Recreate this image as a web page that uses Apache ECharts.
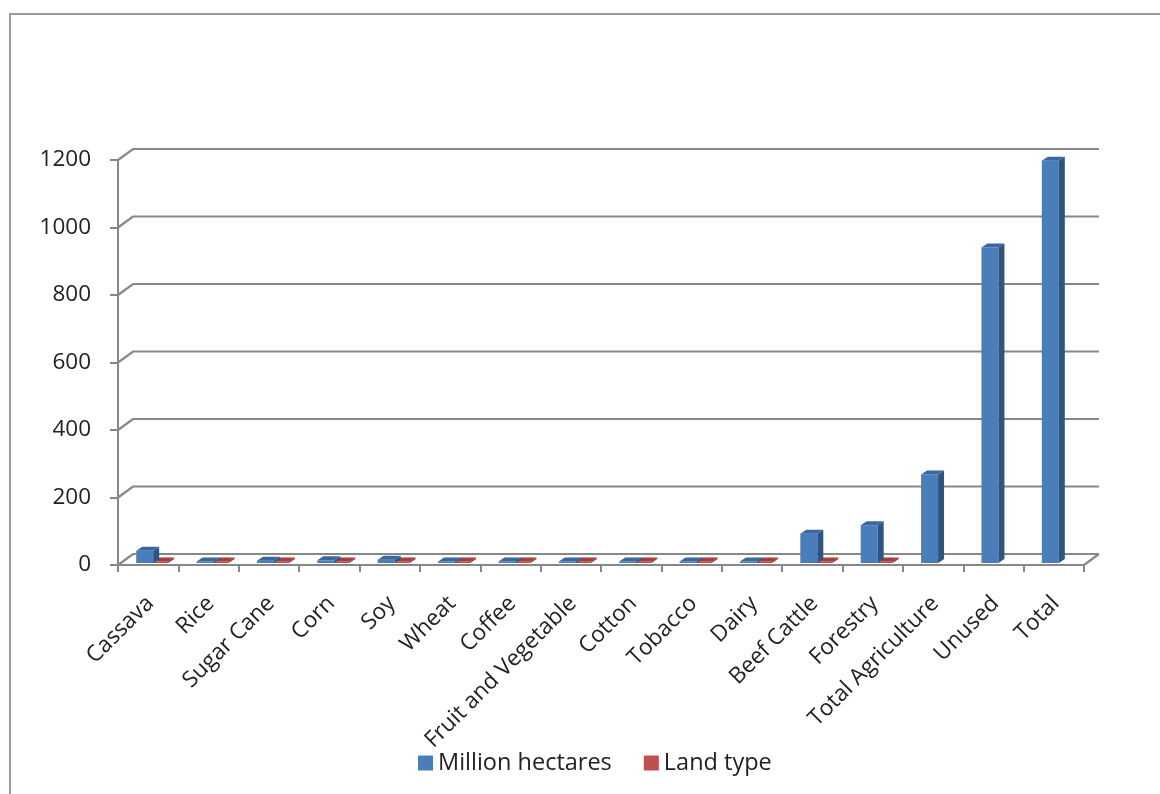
<!DOCTYPE html>
<html><head><meta charset="utf-8">
<script src="https://cdn.jsdelivr.net/npm/echarts@6/dist/echarts.min.js"></script>
<style>html,body{margin:0;padding:0;background:#fff}#c{width:1160px;height:794px}</style>
</head><body><div id="c"></div>
<script>
const categories = ['Cassava','Rice','Sugar Cane','Corn','Soy','Wheat','Coffee','Fruit and Vegetable','Cotton','Tobacco','Dairy','Beef Cattle','Forestry','Total Agriculture','Unused','Total'];
const millionHectares = [36,3,7,8,10,2,2,4,1,0.5,3,87,112,262,935,1192];
const landType = [0,0,0,0,0,0,0,0,0,0,0,0,0,null,null,null];
const yTicks = [0,200,400,600,800,1000,1200];

const FONT = '"Open Sans", "Noto Sans", sans-serif';
const GRAY = '#878787';
const DX = 15, DY = -11;

function barRender(colors, x0off, x1off) {
  return function (params, api) {
    const i = api.value(0), v = api.value(1);
    if (v == null || isNaN(v)) return;
    const top = api.coord([i, v]);
    const base = api.coord([i, 0]);
    const L = top[0] + x0off, R = top[0] + x1off;
    const yb = base[1] - 2;
    const yt = Math.min(top[1] - 2, yb - 1.5);
    const dx = 6, dy = -4;
    return {
      type: 'group',
      children: [
        { type: 'polygon', shape: { points: [[L, yb], [R, yb], [R, yt], [L, yt]] }, style: { fill: colors[0] } },
        { type: 'polygon', shape: { points: [[R, yb], [R + dx, yb + dy], [R + dx, yt + dy], [R, yt]] }, style: { fill: colors[1] } },
        { type: 'polygon', shape: { points: [[L, yt], [R, yt], [R + dx, yt + dy], [L + dx, yt + dy]] }, style: { fill: colors[2] } }
      ]
    };
  };
}

function gridRender(params, api) {
  const v = api.value(1);
  const cs = params.coordSys;
  const y = api.coord([0, v])[1];
  const xl = cs.x, xr = cs.x + cs.width;
  const children = [{
    type: 'polyline',
    shape: { points: [[xl, y], [xl + DX, y + DY], [xr + DX, y + DY]] },
    style: { stroke: GRAY, lineWidth: 2.2, fill: null }
  }];
  if (v === 0) {
    children.push({ type: 'line', shape: { x1: xr, y1: y, x2: xr + DX, y2: y + DY }, style: { stroke: GRAY, lineWidth: 2.2 } });
  }
  return { type: 'group', children };
}

const chart = echarts.init(document.getElementById('c'), null, { renderer: 'canvas' });
chart.setOption({
  animation: false,
  backgroundColor: '#fff',
  graphic: [{
    type: 'rect', z: -10,
    shape: { x: 10, y: 14, width: 1200, height: 900 },
    style: { fill: null, stroke: '#9a9a9a', lineWidth: 2 }
  }],
  legend: {
    left: 413, top: 746,
    itemWidth: 15, itemHeight: 15, itemGap: 32,
    icon: 'rect',
    textStyle: { fontFamily: FONT, fontSize: 23.5, color: '#222' },
    data: ['Million hectares', 'Land type']
  },
  grid: [
    { left: 118, right: 76, top: 160, bottom: 229 },
    { left: 120, right: 74, top: 160, bottom: 229 }
  ],
  xAxis: [{
    type: 'category', data: categories, gridIndex: 0,
    axisLine: { show: true, lineStyle: { color: GRAY, width: 2 } },
    axisTick: { show: true, interval: 0, length: 7, lineStyle: { color: GRAY, width: 2 } },
    axisLabel: { show: false }
  }, {
    type: 'category', data: categories, gridIndex: 1,
    axisLine: { show: false }, axisTick: { show: false },
    axisLabel: { interval: 0, rotate: 45, margin: 35, fontFamily: FONT, fontSize: 22.5, color: '#222' }
  }],
  yAxis: [{
    type: 'value', min: 0, max: 1200, interval: 200, gridIndex: 0,
    axisLine: { show: true, lineStyle: { color: GRAY, width: 2 } },
    axisTick: { show: true, length: 8, lineStyle: { color: GRAY, width: 2 } },
    splitLine: { show: false },
    axisLabel: { margin: 27, fontFamily: FONT, fontSize: 22.5, color: '#222', formatter: v => String(v) }
  }, {
    type: 'value', min: 0, max: 1200, gridIndex: 1, show: false
  }],
  series: [
    {
      type: 'custom', name: 'grid', silent: true, z: 1,
      xAxisIndex: 0, yAxisIndex: 0,
      data: yTicks.map(v => [0, v]),
      renderItem: gridRender
    },
    {
      type: 'custom', name: 'Million hectares', z: 3,
      xAxisIndex: 0, yAxisIndex: 0,
      itemStyle: { color: '#4a7ebb' },
      data: millionHectares.map((v, i) => [i, v]),
      renderItem: barRender(['#4a7ebb', '#30547f', '#3a679e'], -12, 5)
    },
    {
      type: 'custom', name: 'Land type', z: 2,
      xAxisIndex: 0, yAxisIndex: 0,
      itemStyle: { color: '#c0504d' },
      data: landType.map((v, i) => [i, v]),
      renderItem: barRender(['#b54845', '#8f302e', '#a53d3a'], 5, 20)
    }
  ]
});
</script>
</body></html>
